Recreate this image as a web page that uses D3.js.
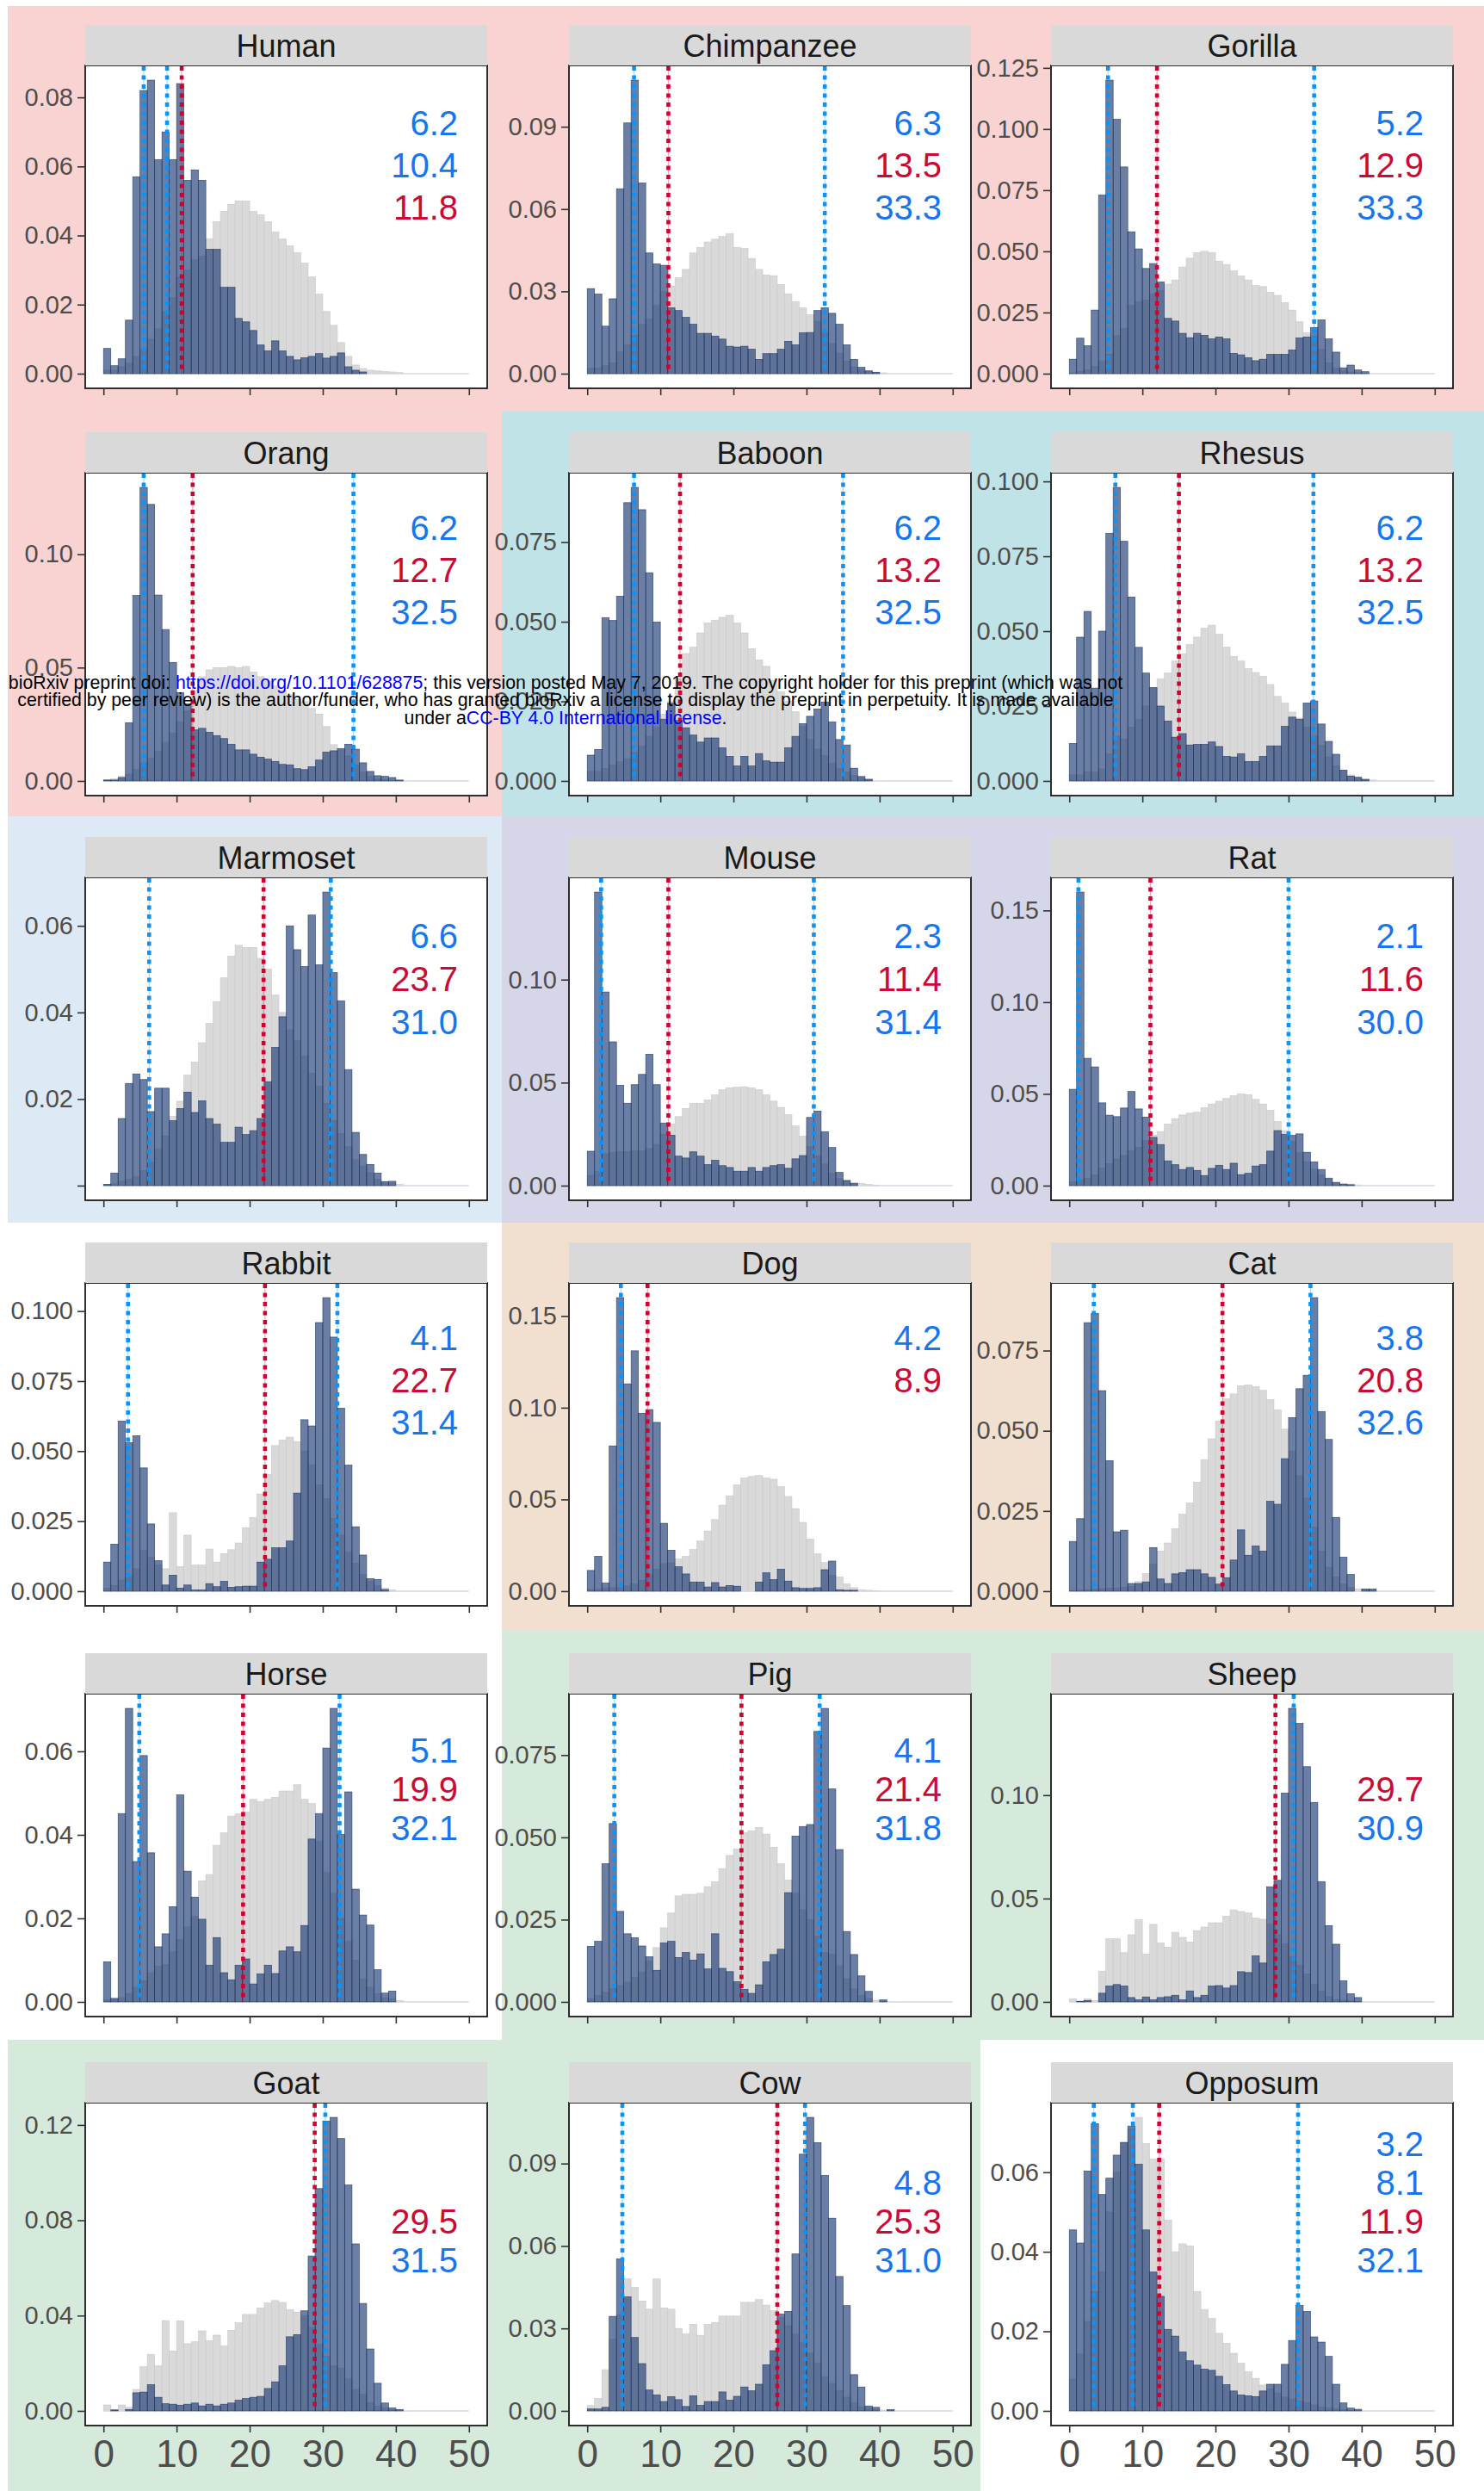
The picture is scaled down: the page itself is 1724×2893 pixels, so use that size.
<!DOCTYPE html>
<html lang="en">
<head>
<meta charset="UTF-8">
<title>Histograms by species</title>
<script src="https://cdn.jsdelivr.net/npm/d3@7"></script>
<style>
  body { margin: 0; background: #fff; }
  svg { display: block; font-family: "Liberation Sans", Arial, sans-serif; }
</style>
</head>
<body>
<svg id="chart" width="1724" height="2893"></svg>
<script>
const species = ["Human","Chimpanzee","Gorilla","Orang","Baboon","Rhesus","Marmoset","Mouse","Rat",
                 "Rabbit","Dog","Cat","Horse","Pig","Sheep","Goat","Cow","Opposum"]

// light grey histogram (bins of width 1 starting at 0)
const grayHuman = [0.001,0.001,0.002,0.003,0.005,0.007,0.010,0.013,0.018,0.022,0.028,0.030,0.033,0.034,0.039,0.044,0.047,0.049,0.050,0.050,0.047,0.046,0.044,0.041,0.039,0.037,0.035,0.032,0.028,0.023,0.018,0.014,0.009,0.005,0.0025,0.0015,0.001,0.0008,0.0006,0.0005,0.0003]
const grayChimp = [0.002,0.002,0.003,0.004,0.008,0.0105,0.014,0.018,0.020,0.025,0.030,0.032,0.035,0.038,0.044,0.046,0.048,0.049,0.050,0.051,0.046,0.0457,0.042,0.038,0.036,0.0357,0.0325,0.029,0.0263,0.024,0.0215,0.019,0.015,0.011,0.0075,0.0045,0.0025,0.0015,0.001,0.0006,0.0003]
const grayGorilla = [0.0003,0.001,0.0015,0.003,0.005,0.008,0.0155,0.0185,0.028,0.0295,0.030,0.0325,0.034,0.0366,0.0383,0.0436,0.0472,0.0495,0.050,0.0495,0.046,0.0446,0.042,0.040,0.0383,0.036,0.0356,0.0333,0.032,0.029,0.026,0.0212,0.0167,0.0153,0.010,0.0045,0.0024,0.0012,0.0007,0.0004]
const grayOrang = [0.0005,0.001,0.002,0.003,0.005,0.008,0.010,0.013,0.017,0.021,0.026,0.031,0.040,0.046,0.049,0.050,0.050,0.0505,0.050,0.0505,0.048,0.046,0.044,0.042,0.040,0.038,0.036,0.035,0.032,0.0295,0.024,0.016,0.0137,0.011,0.007,0.004,0.002,0.001,0.0006,0.0003]
const grayBaboon = [0.003,0.003,0.004,0.005,0.006,0.007,0.009,0.011,0.014,0.017,0.021,0.025,0.032,0.040,0.042,0.0465,0.0496,0.0505,0.0514,0.052,0.0496,0.0465,0.0415,0.038,0.036,0.0316,0.028,0.025,0.0217,0.0171,0.013,0.010,0.008,0.0055,0.004,0.0028,0.0018,0.001,0.0006]
const grayRhesus = [0.002,0.002,0.003,0.003,0.004,0.009,0.015,0.014,0.018,0.0205,0.025,0.031,0.034,0.036,0.040,0.0425,0.0455,0.048,0.051,0.052,0.049,0.0447,0.0416,0.040,0.0375,0.0362,0.035,0.0322,0.0282,0.026,0.023,0.021,0.018,0.015,0.012,0.008,0.005,0.0035,0.002,0.0012,0.0007,0.0003]
const grayMarmoset = [0.0003,0.0005,0.001,0.0015,0.002,0.0035,0.0055,0.0085,0.0115,0.016,0.0195,0.0255,0.0285,0.033,0.0375,0.0425,0.048,0.053,0.0555,0.055,0.055,0.0525,0.050,0.044,0.040,0.036,0.0335,0.030,0.026,0.023,0.019,0.015,0.012,0.009,0.006,0.0045,0.003,0.0015,0.001,0.0006,0.0003]
const grayMouse = [0.005,0.007,0.0155,0.016,0.0165,0.0165,0.017,0.017,0.018,0.020,0.025,0.030,0.0335,0.0375,0.040,0.040,0.0415,0.044,0.0465,0.0475,0.0478,0.048,0.0475,0.0465,0.044,0.041,0.038,0.0345,0.029,0.024,0.019,0.0145,0.0105,0.006,0.0035,0.0025,0.0015,0.001,0.0006,0.0003]
const grayRat = [0.002,0.003,0.004,0.006,0.0095,0.012,0.0145,0.0165,0.019,0.021,0.0245,0.0275,0.0295,0.0335,0.0365,0.0385,0.0395,0.040,0.0425,0.0445,0.046,0.0475,0.049,0.050,0.0495,0.047,0.0445,0.041,0.035,0.030,0.024,0.018,0.013,0.009,0.006,0.0035,0.002,0.0012,0.0008,0.0004]
const grayRabbit = [0.001,0.002,0.004,0.005,0.008,0.0145,0.012,0.0093,0.008,0.028,0.0088,0.020,0.0093,0.0093,0.015,0.0104,0.0134,0.0148,0.0172,0.0227,0.0263,0.0347,0.0417,0.052,0.054,0.055,0.0534,0.050,0.045,0.038,0.033,0.026,0.020,0.014,0.010,0.006,0.0035,0.002,0.001,0.0005]
const grayDog = [0.001,0.001,0.0015,0.002,0.002,0.003,0.004,0.006,0.009,0.012,0.015,0.0155,0.0175,0.019,0.0227,0.0273,0.0328,0.039,0.0469,0.052,0.058,0.0617,0.0625,0.063,0.0617,0.061,0.057,0.0516,0.045,0.0375,0.0284,0.0203,0.0156,0.0086,0.0078,0.0039,0.0019,0.0008,0.0005,0.0003]
const grayCat = [0.0002,0.0003,0.0005,0.0006,0.0008,0.001,0.001,0.0012,0.0015,0.003,0.0055,0.0085,0.0125,0.015,0.0195,0.024,0.0275,0.034,0.041,0.0475,0.053,0.060,0.0615,0.064,0.0643,0.0637,0.0626,0.0597,0.0565,0.0505,0.0437,0.036,0.029,0.020,0.0125,0.0075,0.0045,0.0022,0.0012,0.0007,0.0004,0.0003]
const grayHorse = [0.0005,0.001,0.001,0.002,0.0035,0.005,0.007,0.0085,0.009,0.012,0.015,0.018,0.0205,0.029,0.0305,0.0375,0.0405,0.0445,0.045,0.0455,0.0485,0.048,0.0485,0.049,0.0505,0.0505,0.052,0.0485,0.0475,0.0385,0.031,0.026,0.020,0.0145,0.010,0.0055,0.0035,0.002,0.001,0.0007,0.0003]
const grayPig = [0.001,0.002,0.003,0.004,0.005,0.006,0.0075,0.009,0.0125,0.0165,0.0225,0.027,0.0322,0.0327,0.0327,0.033,0.035,0.0365,0.0405,0.0445,0.0465,0.0515,0.052,0.053,0.051,0.047,0.042,0.037,0.033,0.028,0.025,0.020,0.015,0.0145,0.011,0.007,0.004,0.002,0.001,0.0005,0.0003]
const graySheep = [0.0015,0.0003,0.0015,0.0007,0.0149,0.0305,0.0305,0.0238,0.0325,0.0397,0.0232,0.0375,0.0285,0.0265,0.0337,0.0312,0.029,0.0345,0.0362,0.0383,0.0383,0.0415,0.0445,0.0437,0.043,0.0405,0.040,0.0375,0.0325,0.028,0.022,0.0178,0.0135,0.0085,0.0053,0.0025,0.0012,0.0008,0.0005,0.0003]
const grayGoat = [0.0025,0.0005,0.0025,0.0015,0.009,0.0185,0.0237,0.0189,0.0379,0.0252,0.0378,0.0282,0.029,0.0336,0.0295,0.0318,0.0272,0.0338,0.037,0.0405,0.0405,0.0432,0.0453,0.0463,0.0455,0.0425,0.0415,0.040,0.035,0.028,0.023,0.019,0.018,0.0135,0.009,0.007,0.0035,0.002,0.0012,0.0006,0.0003]
const grayCow = [0.002,0.0045,0.015,0.026,0.035,0.048,0.045,0.040,0.037,0.048,0.0375,0.037,0.030,0.028,0.0315,0.0275,0.0315,0.0322,0.0345,0.0345,0.0345,0.0395,0.0395,0.0405,0.0385,0.0365,0.034,0.031,0.028,0.025,0.021,0.0175,0.0125,0.010,0.0075,0.005,0.003,0.0015,0.001,0.0005,0.0003]
const grayOpposum = [0.008,0.0143,0.0225,0.030,0.035,0.050,0.060,0.0675,0.0709,0.0738,0.0672,0.0633,0.0633,0.048,0.040,0.042,0.0415,0.030,0.0255,0.0233,0.0195,0.017,0.0145,0.012,0.0098,0.0082,0.0065,0.0055,0.0045,0.0035,0.003,0.0025,0.002,0.0015,0.001,0.0007,0.0005,0.0003]

// dark blue histogram
const blueHuman = [0.0073,0.0023,0.0043,0.0155,0.057,0.082,0.085,0.062,0.070,0.062,0.084,0.056,0.059,0.056,0.036,0.036,0.025,0.025,0.016,0.015,0.0125,0.0083,0.0066,0.0095,0.0066,0.005,0.004,0.0046,0.005,0.0058,0.0045,0.005,0.006,0.002,0.001,0.0005]
const blueChimp = [0.031,0.029,0.0173,0.0273,0.0674,0.0914,0.107,0.0695,0.044,0.040,0.0395,0.024,0.023,0.0205,0.018,0.0147,0.0147,0.0137,0.0126,0.010,0.0097,0.010,0.0089,0.0052,0.0073,0.0073,0.0089,0.0118,0.0105,0.0149,0.015,0.023,0.024,0.022,0.018,0.0105,0.0052,0.0023,0.001,0.0005]
const blueGorilla = [0.0059,0.0145,0.0114,0.026,0.073,0.120,0.104,0.0845,0.058,0.051,0.043,0.045,0.0375,0.0226,0.0215,0.0165,0.0147,0.0165,0.0157,0.0142,0.015,0.0142,0.0083,0.0077,0.0065,0.0053,0.0059,0.0079,0.0079,0.0079,0.0097,0.0146,0.015,0.0189,0.022,0.0142,0.0088,0.0024,0.0035,0.0015,0.0008]
const blueOrang = [0.0004,0.0004,0.0015,0.0257,0.0818,0.1295,0.122,0.082,0.0668,0.0523,0.039,0.034,0.0225,0.0232,0.0215,0.020,0.0187,0.0162,0.0137,0.0137,0.0118,0.0105,0.0096,0.0086,0.0073,0.0071,0.0054,0.005,0.0063,0.0092,0.0127,0.0133,0.0143,0.0162,0.014,0.008,0.0042,0.0023,0.002,0.0015,0.0004]
const blueBaboon = [0.0081,0.0099,0.0513,0.0504,0.058,0.0874,0.0922,0.0852,0.0654,0.0499,0.0194,0.0244,0.019,0.0167,0.0144,0.0122,0.0135,0.0135,0.0104,0.0077,0.0047,0.0077,0.0047,0.0086,0.0063,0.0059,0.0059,0.0104,0.014,0.018,0.0203,0.0226,0.0248,0.0185,0.013,0.0113,0.004,0.0014,0.0005]
const blueRhesus = [0.0125,0.048,0.0566,0.031,0.050,0.0827,0.098,0.080,0.0614,0.0446,0.036,0.0312,0.025,0.020,0.0146,0.0158,0.012,0.0122,0.0122,0.013,0.0115,0.0082,0.008,0.0091,0.0065,0.0065,0.0082,0.0117,0.0117,0.0182,0.0213,0.0206,0.026,0.0267,0.019,0.0132,0.0089,0.0036,0.0016,0.0012,0.0005]
const blueMarmoset = [0.0003,0.0029,0.0155,0.0236,0.0258,0.0245,0.0171,0.0225,0.0225,0.015,0.0178,0.0216,0.0169,0.0196,0.0155,0.0142,0.010,0.010,0.0135,0.0118,0.0127,0.0155,0.024,0.0319,0.039,0.060,0.0545,0.0506,0.0625,0.051,0.0678,0.0492,0.0427,0.0268,0.0123,0.0072,0.0049,0.0029,0.0009,0.001]
const blueMouse = [0.0167,0.1425,0.094,0.0698,0.0487,0.040,0.049,0.054,0.0638,0.049,0.0304,0.0245,0.0143,0.0134,0.0164,0.0143,0.0102,0.0123,0.0097,0.0088,0.007,0.007,0.0088,0.007,0.0088,0.0097,0.0102,0.0084,0.013,0.0146,0.0331,0.0362,0.0262,0.0185,0.0064,0.0025,0.001]
const blueRat = [0.0525,0.160,0.0694,0.0647,0.0451,0.0384,0.0376,0.0423,0.0513,0.0418,0.0373,0.0263,0.0224,0.0135,0.0114,0.0088,0.0099,0.0083,0.0055,0.0094,0.0111,0.0088,0.0122,0.006,0.0067,0.0107,0.0114,0.0188,0.030,0.0279,0.0274,0.0282,0.0182,0.0129,0.0088,0.0041,0.0016,0.0008,0.0005]
const blueRabbit = [0.0104,0.0168,0.0607,0.053,0.0555,0.044,0.024,0.0109,0.0022,0.0057,0.0011,0.0022,0.0004,0.0004,0.0027,0.0016,0.0035,0.0014,0.0016,0.0018,0.0018,0.0104,0.0114,0.0155,0.0155,0.0179,0.035,0.0612,0.059,0.0959,0.1048,0.0907,0.0653,0.045,0.023,0.0129,0.0045,0.0042,0.0006]
const blueDog = [0.0113,0.019,0.0044,0.0792,0.160,0.113,0.131,0.097,0.099,0.092,0.037,0.0223,0.0133,0.0094,0.005,0.005,0.0023,0.0047,0.0023,0.0031,0.0027,0,0,0.005,0.010,0.0063,0.012,0.0055,0.0019,0.0015,0.0015,0.0019,0.0117,0.0164,0.0008,0.0005,0.0005]
const blueCat = [0.0155,0.0226,0.0837,0.0866,0.0625,0.0407,0.0185,0.019,0.0024,0.0024,0.0029,0.0136,0.0038,0.0024,0.0054,0.0058,0.0067,0.0067,0.0054,0.0043,0.0022,0.0042,0.0097,0.0191,0.0112,0.0141,0.0125,0.028,0.0271,0.0413,0.0541,0.0631,0.0673,0.0915,0.056,0.0473,0.023,0.0106,0.0052,0,0.0007,0.0007]
const blueHorse = [0.0096,0.0008,0.0451,0.0703,0.0336,0.059,0.0357,0.0132,0.0163,0.0228,0.0496,0.0313,0.0251,0.0198,0.0088,0.0154,0.007,0.0053,0.0088,0.0103,0.0043,0.0067,0.0088,0.0068,0.0122,0.0132,0.012,0.0183,0.039,0.0451,0.0608,0.0703,0.0401,0.0503,0.027,0.0208,0.0184,0.0077,0.0021,0.0026]
const bluePig = [0.0169,0.0184,0.042,0.0542,0.0275,0.0207,0.0195,0.017,0.0137,0.0096,0.0179,0.0184,0.0135,0.015,0.0127,0.0146,0.010,0.0207,0.0102,0.0092,0.0061,0.0038,0.0026,0.0052,0.0122,0.0144,0.016,0.0332,0.0504,0.0533,0.0539,0.0822,0.0892,0.0647,0.0463,0.0214,0.0144,0.0079,0.0032,0,0.0006]
const blueSheep = [0,0.0003,0.0007,0,0.0042,0.0077,0.0084,0.0077,0.0021,0.001,0.0024,0.001,0.0021,0.0025,0.0032,0.001,0.0053,0.0021,0.0032,0.0077,0.0079,0.0067,0.0079,0.0146,0.0142,0.0223,0.0188,0.0557,0.0588,0.101,0.142,0.1347,0.1138,0.0965,0.0582,0.0369,0.0279,0.0102,0.0039,0.0021]
const blueGoat = [0,0.0004,0,0.0006,0.0076,0.0079,0.011,0.0057,0.003,0.0028,0.0024,0.0028,0.0033,0.0021,0.0028,0.0021,0.0028,0.0033,0.0045,0.0052,0.0057,0.0061,0.0094,0.0122,0.0189,0.0311,0.032,0.042,0.065,0.0933,0.1216,0.1232,0.1143,0.0948,0.0701,0.0451,0.026,0.0116,0.0033,0.0012,0.0006]
const blueCow = [0.0007,0.0007,0.0013,0.0344,0.0553,0.0415,0.0267,0.0172,0.0076,0.0058,0.0034,0.0052,0.0041,0.0016,0.0055,0.002,0.0034,0.0034,0.0069,0.0039,0.0053,0.0087,0.0073,0.0097,0.0168,0.0219,0.0352,0.0362,0.0571,0.0934,0.1068,0.0976,0.0857,0.0701,0.0489,0.0383,0.0132,0.0087,0.0018,0.0013,0,0.0005]
const blueOpposum = [0.0455,0.0422,0.0603,0.0722,0.0544,0.0585,0.0643,0.0675,0.0716,0.062,0.0455,0.0349,0.0288,0.0205,0.0188,0.0148,0.0126,0.0115,0.0105,0.0102,0.0087,0.0066,0.005,0.004,0.0038,0.0036,0.005,0.0067,0.0067,0.0117,0.0177,0.0265,0.025,0.0186,0.0173,0.0137,0.0067,0.002,0.0007,0.0004]

const grayBars = [grayHuman,grayChimp,grayGorilla,grayOrang,grayBaboon,grayRhesus,grayMarmoset,grayMouse,grayRat,
                  grayRabbit,grayDog,grayCat,grayHorse,grayPig,graySheep,grayGoat,grayCow,grayOpposum]
const blueBars = [blueHuman,blueChimp,blueGorilla,blueOrang,blueBaboon,blueRhesus,blueMarmoset,blueMouse,blueRat,
                  blueRabbit,blueDog,blueCat,blueHorse,bluePig,blueSheep,blueGoat,blueCow,blueOpposum]

// dotted marker lines, b = blue, r = red
const lineValues = [[5.5,8.7,10.7],[6.4,11.1,32.5],[5.3,12.0,33.5],[5.5,12.2,34.2],[6.4,12.7,35.0],[6.3,15.0,33.4],
                    [6.25,21.9,31.1],[1.9,11.1,31.0],[1.25,11.1,30.0],[3.35,22.1,32.0],[4.6,8.25],[3.35,20.96,33.0],
                    [4.9,19.1,32.3],[3.7,21.1,31.8],[28.2,30.7],[28.9,30.35],[4.8,26.0,29.8],[3.35,8.7,12.3,31.3]]
const lineKinds = [["b","b","r"],["b","r","b"],["b","r","b"],["b","r","b"],["b","r","b"],["b","r","b"],
                   ["b","r","b"],["b","r","b"],["b","r","b"],["b","r","b"],["b","r"],["b","r","b"],
                   ["b","r","b"],["b","r","b"],["r","b"],["r","b"],["b","r","b"],["b","b","r","b"]]

const labelTexts = [["6.2","10.4","11.8"],["6.3","13.5","33.3"],["5.2","12.9","33.3"],["6.2","12.7","32.5"],
                    ["6.2","13.2","32.5"],["6.2","13.2","32.5"],["6.6","23.7","31.0"],["2.3","11.4","31.4"],
                    ["2.1","11.6","30.0"],["4.1","22.7","31.4"],["4.2","8.9"],["3.8","20.8","32.6"],
                    ["5.1","19.9","32.1"],["4.1","21.4","31.8"],["29.7","30.9"],["29.5","31.5"],
                    ["4.8","25.3","31.0"],["3.2","8.1","11.9","32.1"]]
const labelSlot = [0,0,0,0,0,0,0,0,0,0,0,0,0,0,1,2,1,0]

const yTicks = [[0,0.02,0.04,0.06,0.08],[0,0.03,0.06,0.09],[0,0.025,0.05,0.075,0.1,0.125],[0,0.05,0.1],
                [0,0.025,0.05,0.075],[0,0.025,0.05,0.075,0.1],[0,0.02,0.04,0.06],[0,0.05,0.1],[0,0.05,0.1,0.15],
                [0,0.025,0.05,0.075,0.1],[0,0.05,0.1,0.15],[0,0.025,0.05,0.075],[0,0.02,0.04,0.06],
                [0,0.025,0.05,0.075],[0,0.05,0.1],[0,0.04,0.08,0.12],[0,0.03,0.06,0.09],[0,0.02,0.04,0.06]]
const yDecimals = [2,2,3,2,3,3,2,2,2,3,2,3,2,3,2,2,2,2]
const unlabeledZero = ["Marmoset"]
const xTicks = [0,10,20,30,40,50]

// layout
const W = 1724, H = 2893
const colLeft = [99, 661, 1221]
const plotW = 467
const stripTop = [29, 502, 972, 1443, 1920, 2395]
const stripH = 47, plotH = 375
const labelBase = [[81,49],[78,49],[82,50],[78,49],[80,45],[62,45]]

const colBlue = '#1676f0', colRed = '#cc0a36'
const lineBlue = '#0c93f8', lineRed = '#d0002f'

const svg = d3.select('#chart')
svg.append('rect').attr('width', W).attr('height', H).attr('fill', '#ffffff')

const bands = [
  [9, 1724, 7, 477, '#f9d3d1'],
  [9, 583, 477, 948, '#f9d3d1'],
  [583, 1724, 477, 948, '#bfe3e7'],
  [9, 583, 948, 1420, '#dde9f4'],
  [583, 1724, 948, 1420, '#d5d7e8'],
  [583, 1724, 1420, 1893, '#f1dfcf'],
  [583, 1724, 1893, 2369, '#d5eada'],
  [9, 1139, 2369, 2893, '#d5eada']
]
svg.selectAll('rect.band')
   .data(bands)
   .enter()
   .append('rect')
   .attr('class', 'band')
   .attr('x', d => d[0]).attr('y', d => d[2])
   .attr('width', d => d[1] - d[0]).attr('height', d => d[3] - d[2])
   .attr('fill', d => d[4])

species.forEach((name, i) => {
    let row = Math.floor(i / 3)
    let col = i % 3
    let left = colLeft[col]
    let top = stripTop[row] + stripH
    let bottom = top + plotH
    let g = svg.append('g').attr('class', 'panel')

    let gray = grayBars[i], blue = blueBars[i]
    let M = Math.max(d3.max(gray), d3.max(blue))

    let xScale = d3.scaleLinear().domain([-2.5, 52.5]).range([left, left + plotW])
    let yScale = d3.scaleLinear().domain([-0.05 * M, 1.05 * M]).range([bottom, top])

    g.append('rect')
     .attr('x', left).attr('y', top).attr('width', plotW).attr('height', plotH)
     .attr('fill', '#ffffff')

    g.selectAll('rect.gray')
     .data(gray.map((v, k) => ({k: k, v: v})).filter(d => d.v > 0))
     .enter()
     .append('rect')
     .attr('class', 'gray')
     .attr('x', d => xScale(d.k))
     .attr('width', d => xScale(d.k + 1) - xScale(d.k))
     .attr('y', d => yScale(d.v))
     .attr('height', d => yScale(0) - yScale(d.v))
     .attr('fill', '#d9d9d9')
     .attr('stroke', '#c8c8c8')
     .attr('stroke-width', 0.6)

    g.append('line')
     .attr('x1', xScale(0)).attr('x2', xScale(50))
     .attr('y1', yScale(0)).attr('y2', yScale(0))
     .attr('stroke', '#d4d9e2').attr('stroke-width', 1.5)

    g.selectAll('rect.blue')
     .data(blue.map((v, k) => ({k: k, v: v})).filter(d => d.v > 0))
     .enter()
     .append('rect')
     .attr('class', 'blue')
     .attr('x', d => xScale(d.k))
     .attr('width', d => xScale(d.k + 1) - xScale(d.k))
     .attr('y', d => yScale(d.v))
     .attr('height', d => yScale(0) - yScale(d.v))
     .attr('fill', '#1e3d75')
     .attr('fill-opacity', 0.66)
     .attr('stroke', '#1b3362')
     .attr('stroke-opacity', 0.8)
     .attr('stroke-width', 0.7)

    let vl = lineValues[i].map((v, k) => ({v: v, kind: lineKinds[i][k]}))
    g.selectAll('line.faint')
     .data(vl)
     .enter()
     .append('line')
     .attr('x1', d => xScale(d.v)).attr('x2', d => xScale(d.v))
     .attr('y1', top + 1).attr('y2', yScale(0))
     .attr('stroke', d => d.kind == 'r' ? lineRed : lineBlue)
     .attr('stroke-opacity', 0.35)
     .attr('stroke-width', 1.2)
    g.selectAll('line.vmark')
     .data(vl)
     .enter()
     .append('line')
     .attr('class', 'vmark')
     .attr('x1', d => xScale(d.v)).attr('x2', d => xScale(d.v))
     .attr('y1', top + 1).attr('y2', yScale(0))
     .attr('stroke', d => d.kind == 'r' ? lineRed : lineBlue)
     .attr('stroke-width', 4.6)
     .attr('stroke-dasharray', '5 5.5')

    let lb = labelBase[row]
    g.selectAll('text.peak')
     .data(labelTexts[i].map((t, k) => ({t: t, kind: (lineKinds[i][k]), slot: labelSlot[i] + k})))
     .enter()
     .append('text')
     .attr('class', 'peak')
     .attr('x', left + plotW - 34)
     .attr('y', d => top + lb[0] + lb[1] * d.slot)
     .attr('text-anchor', 'end')
     .attr('font-size', 40)
     .attr('fill', d => d.kind == 'r' ? colRed : colBlue)
     .text(d => d.t)

    g.append('rect')
     .attr('x', left).attr('y', top).attr('width', plotW).attr('height', plotH)
     .attr('fill', 'none').attr('stroke', '#1a1a1a').attr('stroke-width', 1.8)

    g.append('rect')
     .attr('x', left).attr('y', stripTop[row]).attr('width', plotW).attr('height', stripH)
     .attr('fill', '#d9d9d9')
    g.append('text')
     .attr('x', left + plotW / 2).attr('y', stripTop[row] + 37)
     .attr('text-anchor', 'middle')
     .attr('font-size', 36)
     .attr('fill', '#1a1a1a')
     .text(name)

    let fmt = d3.format('.' + yDecimals[i] + 'f')
    let yAxis = d3.axisLeft(yScale)
                  .tickValues(yTicks[i])
                  .tickSize(9)
                  .tickPadding(5)
                  .tickFormat(d => (d == 0 && unlabeledZero.includes(name)) ? '' : fmt(d))
    let ya = g.append('g').attr('transform', 'translate(' + left + ',0)').call(yAxis)
    ya.select('.domain').remove()
    ya.selectAll('line').attr('stroke', '#333333').attr('stroke-width', 1.6)
    ya.selectAll('text').attr('font-size', 29).attr('fill', '#4d4d4d')
      .attr('font-family', '"Liberation Sans", Arial, sans-serif')

    let lastRow = row == 5
    let xAxis = d3.axisBottom(xScale)
                  .tickValues(xTicks)
                  .tickSize(8)
                  .tickPadding(9)
                  .tickFormat(d => lastRow ? d : '')
    let xa = g.append('g').attr('transform', 'translate(0,' + bottom + ')').call(xAxis)
    xa.select('.domain').remove()
    xa.selectAll('line').attr('stroke', '#333333').attr('stroke-width', 1.6)
    xa.selectAll('text').attr('font-size', 44).attr('fill', '#4d4d4d')
      .attr('font-family', '"Liberation Sans", Arial, sans-serif')
})

// preprint notice printed over the figure
const notice = svg.append('text')
                  .attr('text-anchor', 'middle')
                  .attr('font-size', 21.3)
                  .attr('fill', '#000000')
const n1 = notice.append('tspan').attr('x', 657).attr('y', 800)
n1.append('tspan').text('bioRxiv preprint doi: ')
n1.append('tspan').attr('fill', '#0000ff').text('https://doi.org/10.1101/628875')
n1.append('tspan').text('; this version posted May 7, 2019. The copyright holder for this preprint (which was not')
notice.append('tspan').attr('x', 657).attr('y', 820)
      .text('certified by peer review) is the author/funder, who has granted bioRxiv a license to display the preprint in perpetuity. It is made available')
const n3 = notice.append('tspan').attr('x', 657).attr('y', 841)
n3.append('tspan').text('under a')
n3.append('tspan').attr('fill', '#0000ff').text('CC-BY 4.0 International license')
n3.append('tspan').text('.')
</script>
</body>
</html>
